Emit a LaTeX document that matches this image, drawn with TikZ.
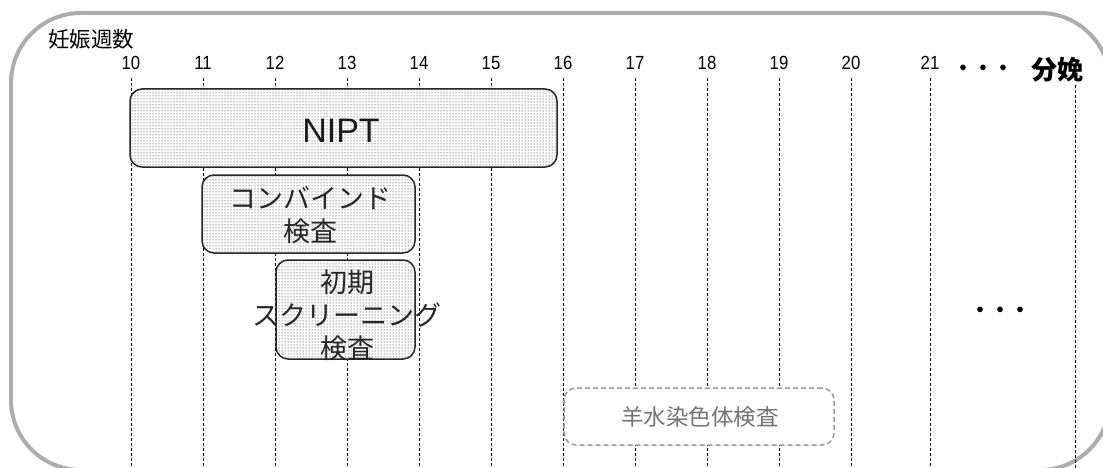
\documentclass[tikz,border=0pt]{standalone}
\usepackage{fontspec}
\setmainfont{Liberation Sans}
\newfontfamily\jp{Noto Sans CJK JP}
\newfontfamily\wknum[FakeStretch=0.88]{Liberation Sans}
\usetikzlibrary{patterns}
\begin{document}
\begin{tikzpicture}[x=1pt,y=-1pt,
  frame/.style={draw=black!32, line width=4pt, rounded corners=70pt},
  wk/.style={draw=black, line width=0.8pt, dash pattern=on 3pt off 2pt},
  wklabel/.style={font=\wknum\fontsize{19}{19}\selectfont, inner sep=0pt, text=black},
  testbox/.style={draw=black!85, line width=1.5pt, rounded corners=12pt,
    preaction={fill=white}, pattern=dots, pattern color=black!90, inner sep=0pt},
  amniobox/.style={draw=black!40, line width=1.5pt, rounded corners=12pt,
    dash pattern=on 5pt off 3pt, fill=white, inner sep=0pt},
  boxtext/.style={font=\jp\fontsize{27}{33}\selectfont, align=center, text=black!85, inner sep=0pt},
]
\useasboundingbox (0,0) rectangle (1103,468);
\begin{scope}
\clip (0,0) rectangle (1103,468);
\draw[frame] (11,13) rectangle (1110,470);
\end{scope}

% header
\node[font=\jp\fontsize{21.5}{21.5}\selectfont, inner sep=0pt] (axis) at (91,39) {妊娠週数};
\node[wklabel] (w10) at (131,63) {10};
\node[wklabel] (w11) at (203,63) {11};
\node[wklabel] (w12) at (275,63) {12};
\node[wklabel] (w13) at (347,63) {13};
\node[wklabel] (w14) at (419,63) {14};
\node[wklabel] (w15) at (491,63) {15};
\node[wklabel] (w16) at (563,63) {16};
\node[wklabel] (w17) at (635,63) {17};
\node[wklabel] (w18) at (707,63) {18};
\node[wklabel] (w19) at (779,63) {19};
\node[wklabel] (w20) at (851,63) {20};
\node[wklabel] (w21) at (930,63) {21};
\node[font=\jp\bfseries\fontsize{20}{20}\selectfont, inner sep=0pt] (dots1) at (983,70) {・・・};
\node[font=\jp\bfseries\fontsize{26}{26}\selectfont, inner sep=0pt] (deliv) at (1057,70) {分娩};

% week lines
\foreach \w/\x in {10/131,11/203,12/275,13/347,14/419,15/491,16/563,17/635,18/707,19/779,20/851,21/930}{
  \coordinate (b\w) at (\x,470);
  \coordinate (t\w) at (\x,78);
  \draw[wk] (t\w) -- (b\w);
}
\coordinate (tdel) at (1075,85);
\coordinate (bdel) at (1075,470);
\draw[wk] (tdel) -- (bdel);

% boxes
\node[testbox, minimum width=427pt, minimum height=78pt] (nipt) at (343.5,128) {};
\node[font=\fontsize{34}{34}\selectfont, inner sep=0pt, text=black!90] (nipttext) at (341,131) {NIPT};

\node[testbox, minimum width=213pt, minimum height=78pt] (comb) at (308.5,214) {};
\node[boxtext] (combtext) at (310,215) {コンバインド\\検査};

\node[testbox, minimum width=139pt, minimum height=99pt] (scr) at (345.5,309.5) {};
\node[boxtext] (scrtext) at (347,315) {初期\\スクリーニング\\検査};

\node[amniobox, minimum width=270pt, minimum height=57pt] (amnio) at (699,416.5) {};
\node[font=\jp\fontsize{22.5}{22.5}\selectfont, inner sep=0pt, text=black!55] (amniotext) at (700,417) {羊水染色体検査};

\node[font=\jp\bfseries\fontsize{20}{20}\selectfont, inner sep=0pt] (dots2) at (1000,312) {・・・};
\end{tikzpicture}
\end{document}
